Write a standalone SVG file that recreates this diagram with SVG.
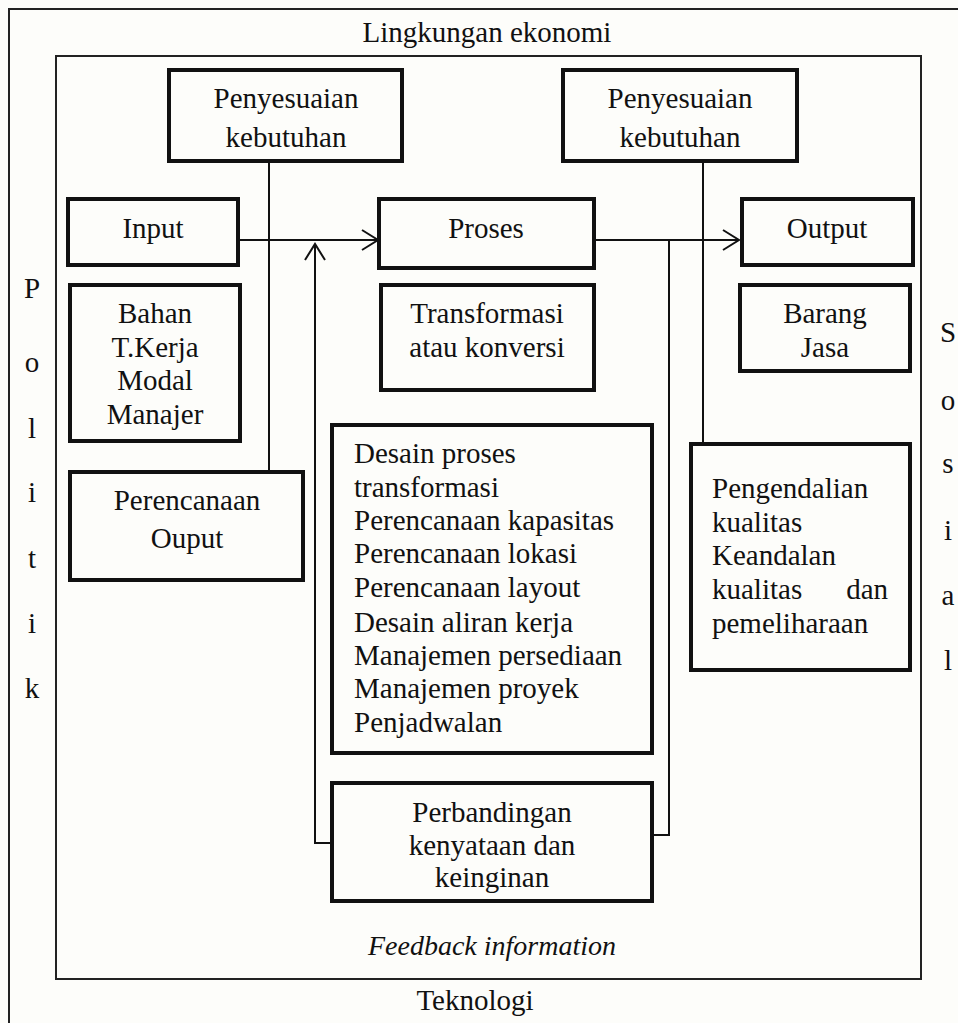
<svg xmlns="http://www.w3.org/2000/svg" width="958" height="1023" viewBox="0 0 958 1023">
<style>
text{font-family:"Liberation Serif","Times New Roman",serif;font-size:29px;fill:#111}
.c{text-anchor:middle}
.box{fill:#fdfdfa;stroke:#111;stroke-width:4}
.frame{fill:none;stroke:#222;stroke-width:2}
.ln{fill:none;stroke:#111;stroke-width:2}
</style>
<defs>
<marker id="chev" markerWidth="20" markerHeight="24" refX="17" refY="12" orient="auto" markerUnits="userSpaceOnUse">
<path d="M1,2 L17,12 L1,22" fill="none" stroke="#111" stroke-width="2"/>
</marker>
</defs>
<rect x="0" y="0" width="958" height="1023" fill="#fdfdfa"/>
<g id="frames">
<path class="frame" d="M9,1023 V9 H958"/>
<rect class="frame" x="56" y="56" width="865" height="923"/>
<text class="c" x="487" y="42">Lingkungan ekonomi</text>
<text class="c" x="475" y="1010">Teknologi</text>
<text class="c" x="492" y="955" font-style="italic" style="font-size:28px">Feedback information</text>
</g>
<g id="politik" class="c">
<text class="c" x="32" y="298">P</text>
<text class="c" x="32" y="372">o</text>
<text class="c" x="32" y="438">l</text>
<text class="c" x="32" y="502">i</text>
<text class="c" x="32" y="568">t</text>
<text class="c" x="32" y="633">i</text>
<text class="c" x="32" y="698">k</text>
</g>
<g id="sosial">
<text class="c" x="948" y="342">S</text>
<text class="c" x="948" y="410">o</text>
<text class="c" x="948" y="473">s</text>
<text class="c" x="948" y="540">i</text>
<text class="c" x="948" y="605">a</text>
<text class="c" x="948" y="670">l</text>
</g>
<g id="connectors">
<line class="ln" x1="269" y1="163" x2="269" y2="470"/>
<line class="ln" x1="703" y1="163" x2="703" y2="442"/>
<line class="ln" x1="240" y1="240" x2="378" y2="240" marker-end="url(#chev)"/>
<line class="ln" x1="596" y1="240" x2="739" y2="240" marker-end="url(#chev)"/>
<path class="ln" d="M669,240 V835 H654"/>
<path class="ln" d="M330,843 H315 V244" marker-end="url(#chev)"/>
</g>
<g id="penyesuaian1">
<rect class="box" x="169" y="70" width="233" height="91"/>
<text class="c" x="286" y="108">Penyesuaian</text>
<text class="c" x="286" y="147">kebutuhan</text>
</g>
<g id="penyesuaian2">
<rect class="box" x="563" y="70" width="234" height="91"/>
<text class="c" x="680" y="108">Penyesuaian</text>
<text class="c" x="680" y="147">kebutuhan</text>
</g>
<g id="input">
<rect class="box" x="68" y="199" width="170" height="66"/>
<text class="c" x="153" y="238">Input</text>
</g>
<g id="proses">
<rect class="box" x="379" y="199" width="215" height="69"/>
<text class="c" x="486" y="238">Proses</text>
</g>
<g id="output">
<rect class="box" x="742" y="199" width="171" height="66"/>
<text class="c" x="827" y="238">Output</text>
</g>
<g id="bahan">
<rect class="box" x="70" y="285" width="170" height="156"/>
<text class="c" x="155" y="323">Bahan</text>
<text class="c" x="155" y="357">T.Kerja</text>
<text class="c" x="155" y="390">Modal</text>
<text class="c" x="155" y="424">Manajer</text>
</g>
<g id="transformasi">
<rect class="box" x="381" y="285" width="213" height="105"/>
<text class="c" x="487" y="323">Transformasi</text>
<text class="c" x="487" y="357">atau konversi</text>
</g>
<g id="barang">
<rect class="box" x="740" y="285" width="170" height="86"/>
<text class="c" x="825" y="323">Barang</text>
<text class="c" x="825" y="357">Jasa</text>
</g>
<g id="perencanaan">
<rect class="box" x="70" y="472" width="233" height="108"/>
<text class="c" x="187" y="510">Perencanaan</text>
<text class="c" x="187" y="548">Ouput</text>
</g>
<g id="desain">
<rect class="box" x="332" y="425" width="320" height="328"/>
<text x="354" y="463">Desain proses</text>
<text x="354" y="497">transformasi</text>
<text x="354" y="530">Perencanaan kapasitas</text>
<text x="354" y="563">Perencanaan lokasi</text>
<text x="354" y="597">Perencanaan layout</text>
<text x="354" y="632">Desain aliran kerja</text>
<text x="354" y="665">Manajemen persediaan</text>
<text x="354" y="698">Manajemen proyek</text>
<text x="354" y="732">Penjadwalan</text>
</g>
<g id="pengendalian">
<rect class="box" x="691" y="444" width="219" height="226"/>
<text x="712" y="498">Pengendalian</text>
<text x="712" y="532">kualitas</text>
<text x="712" y="565">Keandalan</text>
<text x="712" y="599">kualitas</text>
<text x="888" y="599" text-anchor="end">dan</text>
<text x="712" y="633">pemeliharaan</text>
</g>
<g id="perbandingan">
<rect class="box" x="332" y="783" width="320" height="118"/>
<text class="c" x="492" y="822">Perbandingan</text>
<text class="c" x="492" y="855">kenyataan dan</text>
<text class="c" x="492" y="887">keinginan</text>
</g>
</svg>
